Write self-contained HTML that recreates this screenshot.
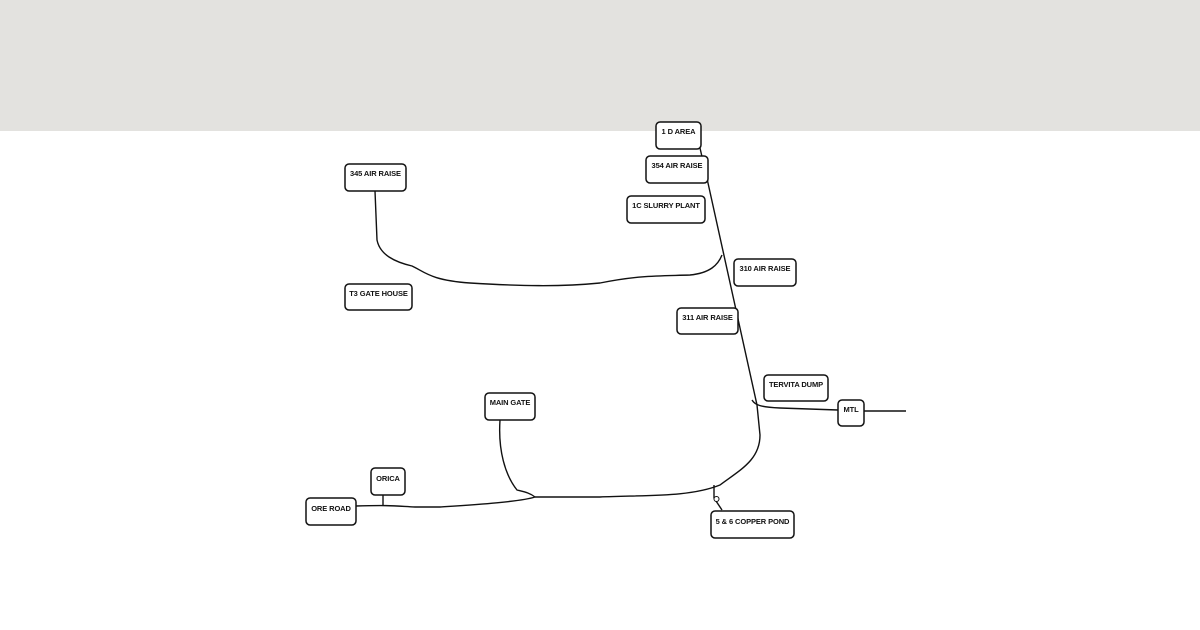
<!DOCTYPE html>
<html><head><style>
html,body{margin:0;padding:0;background:#fff;}
svg{display:block}
text{font-family:"Liberation Sans",sans-serif;font-size:7.5px;font-weight:bold;fill:#111;text-anchor:middle;letter-spacing:-0.1px}
rect{fill:#fff;stroke:#111;stroke-width:1.5}
path{fill:none;stroke:#111;stroke-width:1.4}
</style></head><body>
<svg width="1200" height="630" viewBox="0 0 1200 630">
<rect x="0" y="0" width="1200" height="131" style="fill:#e3e2df;stroke:none"/>
<path d="M700,148 L708,183 L757,405 L760,435 C760,460 740,470 720,485 C690,497 650,495 600,497 L535,497"/>
<path d="M535,497 C520,502 470,505 440,507 L415,507 C395,506 390,505 356,506"/>
<path d="M383,495 L383,505"/>
<path d="M500,420 C498,450 505,475 517,490 C525,492 530,493 535,497"/>
<path d="M375,191 L377,240 C380,255 395,262 412,266 C425,272 430,280 470,283 C520,286 560,287 600,283 C640,275 660,276 690,275 C710,273 718,265 722,255"/>
<path d="M752,400 C755,405 760,407 780,408 L838,410 M864,411 L906,411"/>
<path d="M714,485 L714,498 L722,510"/>
<circle cx="716.5" cy="499" r="2.5" style="fill:#fff;stroke:#111;stroke-width:1"/>
<g>
<rect x="656" y="122" width="45" height="27" rx="4"/><text x="678.5" y="134">1 D AREA</text>
<rect x="646" y="156" width="62" height="27" rx="4"/><text x="677" y="168">354 AIR RAISE</text>
<rect x="627" y="196" width="78" height="27" rx="4"/><text x="666" y="208">1C SLURRY PLANT</text>
<rect x="734" y="259" width="62" height="27" rx="4"/><text x="765" y="271">310 AIR RAISE</text>
<rect x="677" y="308" width="61" height="26" rx="4"/><text x="707.5" y="320">311 AIR RAISE</text>
<rect x="764" y="375" width="64" height="26" rx="4"/><text x="796" y="387">TERVITA DUMP</text>
<rect x="838" y="400" width="26" height="26" rx="4"/><text x="851" y="412">MTL</text>
<rect x="345" y="164" width="61" height="27" rx="4"/><text x="375.5" y="176">345 AIR RAISE</text>
<rect x="345" y="284" width="67" height="26" rx="4"/><text x="378.5" y="296">T3 GATE HOUSE</text>
<rect x="485" y="393" width="50" height="27" rx="4"/><text x="510" y="405">MAIN GATE</text>
<rect x="371" y="468" width="34" height="27" rx="4"/><text x="388" y="481">ORICA</text>
<rect x="306" y="498" width="50" height="27" rx="4"/><text x="331" y="511">ORE ROAD</text>
<rect x="711" y="511" width="83" height="27" rx="4"/><text x="752.5" y="524">5 &amp; 6 COPPER POND</text>
</g>
</svg>
</body></html>
